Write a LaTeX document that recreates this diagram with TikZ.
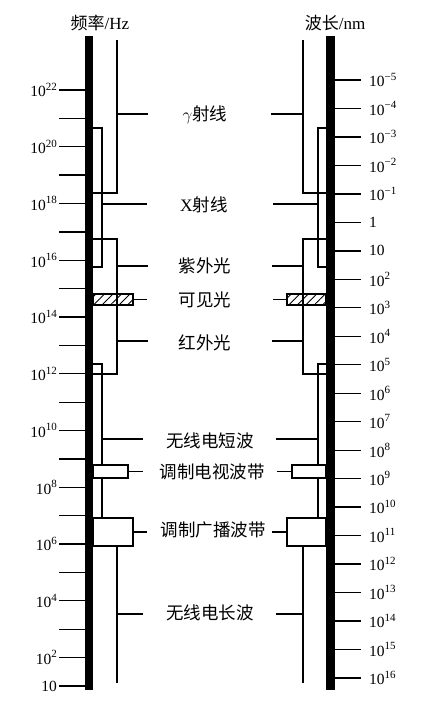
\documentclass[tikz,border=0pt]{standalone}
\usepackage{fontspec}
\setmainfont{Liberation Serif}
\newfontfamily\cjk{Noto Sans CJK SC}
\usetikzlibrary{patterns.meta}
\newcommand\sps[1]{\raisebox{0.42em}{\fontsize{11}{11}\selectfont #1}}
\begin{document}
\begin{tikzpicture}[x=1pt,y=-1pt,
  thinl/.style={line width=1.1pt},
  tickl/.style={line width=1.3pt},
  lab/.style={font=\fontsize{17.5}{18}\selectfont\cjk, inner sep=0pt},
  head/.style={font=\fontsize{17}{17}\selectfont, inner sep=0pt},
  num/.style={font=\fontsize{15.5}{15.5}\selectfont, inner sep=0pt},
  plainbox/.style={draw, line width=1.1pt, fill=white},
  hatchbox/.style={draw, line width=1.1pt, pattern={Lines[angle=45,distance=6pt,line width=0.9pt]}}
]
\useasboundingbox (0,0) rectangle (432,704);

% headers
\node[head] (hf) at (100,23) {{\cjk 频率}/Hz};
\node[head] (hl) at (335,23) {{\cjk 波长}/nm};

% left ticks and labels
\foreach \i in {0,...,21} {
  \pgfmathsetmacro\yy{90+\i*28.38}
  \draw[tickl] (59,\yy) -- (85,\yy);
}
\foreach \e in {22,20,...,2} {
  \pgfmathsetmacro\yy{90+(22-\e)*28.38}
  \node[num,anchor=east] (lf\e) at (57,\yy) {10\sps{\e}};
}
\node[num,anchor=east] (lf1) at (57,686) {10};

% right ticks and labels
\foreach \t [count=\i from 0] in {10\sps{−5},10\sps{−4},10\sps{−3},10\sps{−2},10\sps{−1},1,10,10\sps{2},10\sps{3},10\sps{4},10\sps{5},10\sps{6},10\sps{7},10\sps{8},10\sps{9},10\sps{10},10\sps{11},10\sps{12},10\sps{13},10\sps{14},10\sps{15},10\sps{16}} {
  \pgfmathsetmacro\yy{80+\i*28.476}
  \draw[tickl] (335,\yy) -- (361,\yy);
  \node[num,anchor=west] (rl\i) at (369,\yy) {\t};
}

% ---------- left band lines ----------
\draw[thinl] (117,40) -- (117,193) -- (93,193);
\draw[thinl] (117,114) -- (148,114);
\draw[thinl] (93,128) -- (102,128) -- (102,267) -- (93,267);
\draw[thinl] (102,204) -- (147,204);
\draw[thinl] (93,239) -- (117,239) -- (117,374) -- (93,374);
\draw[thinl] (117,266) -- (148,266);
\draw[thinl] (117,341) -- (148,341);
\draw[thinl] (93,364) -- (102,364) -- (102,518);
\draw[thinl] (102,439) -- (143,439);
\draw[thinl] (117,546) -- (117,683);
\draw[thinl] (117,614) -- (143,614);
\draw[hatchbox] (93,294) rectangle (133,305);
\draw[thinl] (133,299.5) -- (147,299.5);
\draw[plainbox] (93,465) rectangle (128,478);
\draw[thinl] (128,471.5) -- (143,471.5);
\draw[plainbox] (93,518) rectangle (133,546);
\draw[thinl] (133,532) -- (147,532);

% ---------- right band lines ----------
\draw[thinl] (303,40) -- (303,193) -- (326,193);
\draw[thinl] (303,114) -- (271,114);
\draw[thinl] (326,128) -- (318,128) -- (318,267) -- (326,267);
\draw[thinl] (318,204) -- (273,204);
\draw[thinl] (326,239) -- (303,239) -- (303,374) -- (326,374);
\draw[thinl] (303,266) -- (272,266);
\draw[thinl] (303,341) -- (272,341);
\draw[thinl] (326,364) -- (318,364) -- (318,518);
\draw[thinl] (318,439) -- (276,439);
\draw[thinl] (303,546) -- (303,683);
\draw[thinl] (303,614) -- (276,614);
\draw[hatchbox] (287,294) rectangle (326,305);
\draw[thinl] (287,299.5) -- (273,299.5);
\draw[plainbox] (292,465) rectangle (326,478);
\draw[thinl] (292,471.5) -- (277,471.5);
\draw[plainbox] (287,518) rectangle (326,546);
\draw[thinl] (287,532) -- (272,532);

% thick bars
\fill (85,36) rectangle (93,690);
\fill (326,36) rectangle (335,690);

% band labels
\node[lab] (gam) at (205,115) {\(\gamma\)射线};
\node[lab] (xr) at (204,205) {{\normalfont X}射线};
\node[lab] (uv) at (205,266) {紫外光};
\node[lab] (vis) at (205,300) {可见光};
\node[lab] (ir) at (205,343) {红外光};
\node[lab] (sw) at (210,441) {无线电短波};
\node[lab] (tv) at (212,472) {调制电视波带};
\node[lab] (am) at (213,530) {调制广播波带};
\node[lab] (lw) at (210,613) {无线电长波};
\end{tikzpicture}
\end{document}
